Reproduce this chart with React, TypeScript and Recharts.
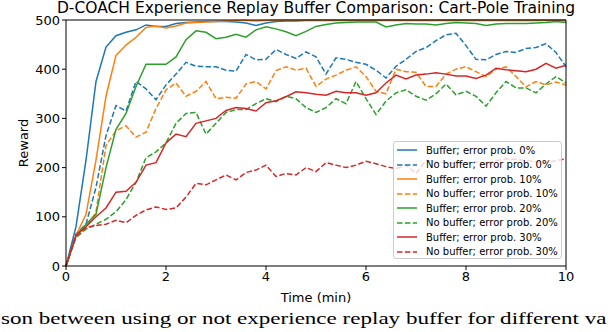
import { LineChart, Line, XAxis, YAxis, ReferenceLine } from 'recharts'

const TIME = [
  0, 0.2, 0.4, 0.6, 0.8, 1, 1.2, 1.4, 1.6, 1.8, 2, 2.2, 2.4, 2.6, 2.8, 3, 3.2, 3.4, 3.6, 3.8, 4,
  4.2, 4.4, 4.6, 4.8, 5, 5.2, 5.4, 5.6, 5.8, 6, 6.2, 6.4, 6.6, 6.8, 7, 7.2, 7.4, 7.6, 7.8, 8,
  8.2, 8.4, 8.6, 8.8, 9, 9.2, 9.4, 9.6, 9.8, 10,
]

// buffer runs
const BUF_0 = [
  0, 80, 215, 375, 445, 468, 475, 480, 490, 487, 487, 493, 495, 496, 497, 497, 497, 496, 494, 489, 494,
  497, 498, 498, 499, 499, 499, 499, 499, 499, 499, 499, 499, 499, 499, 499, 499, 499, 499, 499, 499,
  499, 499, 499, 499, 499, 499, 499, 499, 499, 499,
]
const BUF_10 = [
  0, 62, 105, 215, 345, 428, 449, 465, 485, 488, 484, 488, 494, 495, 496, 497, 498, 499, 499, 498, 499,
  500, 500, 500, 500, 500, 500, 500, 500, 500, 500, 500, 500, 500, 500, 500, 500, 500, 500, 500, 500,
  500, 500, 500, 500, 500, 500, 500, 500, 500, 500,
]
const BUF_20 = [
  0, 62, 85, 105, 200, 278, 310, 365, 410, 410, 410, 425, 460, 478, 475, 462, 465, 471, 465, 480, 486,
  482, 476, 468, 477, 487, 491, 494, 495, 496, 496, 496, 486, 490, 493, 492, 492, 490, 493, 495, 494,
  493, 489, 492, 493, 493, 493, 494, 495, 497, 495,
]
const BUF_30 = [
  0, 62, 80, 100, 118, 150, 152, 170, 205, 210, 250, 268, 263, 290, 295, 300, 316, 322, 320, 315, 332,
  336, 344, 354, 352, 349, 347, 355, 352, 352, 347, 352, 372, 388, 380, 388, 390, 393, 390, 386, 386,
  381, 388, 402, 399, 397, 395, 400, 412, 402, 408,
]

// no buffer runs
const NOBUF_0 = [
  0, 65, 85, 160, 265, 326, 315, 375, 360, 338, 368, 390, 414, 406, 405, 405, 398, 396, 430, 419, 420,
  440, 430, 422, 435, 425, 390, 423, 420, 414, 410, 398, 382, 406, 420, 436, 444, 458, 470, 473, 448,
  420, 419, 430, 436, 434, 442, 444, 452, 434, 405,
]
const NOBUF_10 = [
  0, 60, 78, 110, 245, 275, 285, 262, 272, 320, 358, 372, 345, 355, 375, 340, 343, 341, 370, 375, 360,
  397, 405, 398, 402, 365, 380, 388, 398, 405, 385, 355, 350, 400, 395, 394, 365, 365, 390, 400, 405,
  395, 385, 400, 405, 385, 364, 375, 368, 374, 368,
]
const NOBUF_20 = [
  0, 58, 75, 85, 95, 110, 135, 170, 220, 232, 250, 290, 310, 312, 268, 290, 312, 318, 318, 330, 340,
  334, 345, 340, 322, 312, 322, 340, 330, 375, 340, 308, 335, 352, 358, 345, 337, 350, 370, 348, 355,
  345, 325, 352, 375, 362, 362, 352, 370, 385, 372,
]
const NOBUF_30 = [
  0, 62, 78, 82, 85, 93, 88, 103, 114, 120, 115, 118, 140, 168, 165, 175, 185, 175, 190, 195, 205,
  182, 188, 185, 200, 192, 210, 205, 200, 205, 213, 208, 202, 198, 205, 188, 215, 212, 210, 208, 210,
  212, 208, 214, 218, 217, 214, 212, 210, 214, 218,
]

const X_TICKS = [0, 2, 4, 6, 8, 10]
const Y_TICKS = [0, 100, 200, 300, 400, 500]

const SERIES = [
  { key: 'b0', name: 'Buffer; error prob. 0%', values: BUF_0, color: '#1f77b4', dashed: false },
  { key: 'n0', name: 'No buffer; error prob. 0%', values: NOBUF_0, color: '#1f77b4', dashed: true },
  { key: 'b10', name: 'Buffer; error prob. 10%', values: BUF_10, color: '#ff7f0e', dashed: false },
  { key: 'n10', name: 'No buffer; error prob. 10%', values: NOBUF_10, color: '#ff7f0e', dashed: true },
  { key: 'b20', name: 'Buffer; error prob. 20%', values: BUF_20, color: '#2ca02c', dashed: false },
  { key: 'n20', name: 'No buffer; error prob. 20%', values: NOBUF_20, color: '#2ca02c', dashed: true },
  { key: 'b30', name: 'Buffer; error prob. 30%', values: BUF_30, color: '#d62728', dashed: false },
  { key: 'n30', name: 'No buffer; error prob. 30%', values: NOBUF_30, color: '#d62728', dashed: true },
]

const data = TIME.map((t, i) => {
  const row: Record<string, number> = { t }
  SERIES.forEach((s) => (row[s.key] = s.values[i]))
  return row
})

const FONT = '"DejaVu Sans", sans-serif'
const DASH = '5.5 2.4'

const App = () => {
  return (
    <div style={{ position: 'absolute', left: 0, top: 0, width: 610, height: 332, overflow: 'hidden', background: '#fff' }}>
      <div style={{ position: 'absolute', left: 0, top: 1, width: 610, textAlign: 'center', paddingLeft: 22, boxSizing: 'border-box', fontFamily: FONT, fontSize: 15.5, lineHeight: '14px', color: '#000', whiteSpace: 'nowrap' }}>
        D-COACH Experience Replay Buffer Comparison: Cart-Pole Training
      </div>

      <div style={{ position: 'absolute', left: 0, top: 0 }}>
        <LineChart width={610} height={310} data={data} margin={{ top: 20, right: 44, left: 0, bottom: 6 }} style={{ fontFamily: FONT }}>
          <XAxis
            dataKey="t"
            type="number"
            domain={[0, 10]}
            ticks={X_TICKS}
            tickSize={4}
            height={38}
            stroke="#000"
            tick={{ fill: '#000', fontSize: 13 }}
            label={{ value: 'Time (min)', position: 'insideBottom', offset: 2, fill: '#000', fontSize: 13 }}
          />
          <YAxis
            type="number"
            domain={[0, 500]}
            ticks={Y_TICKS}
            tickSize={4}
            width={66}
            stroke="#000"
            tick={{ fill: '#000', fontSize: 13 }}
            label={{ value: 'Reward', angle: -90, position: 'insideLeft', offset: 23, fill: '#000', fontSize: 13, style: { textAnchor: 'middle' } }}
          />
          {SERIES.map((s) => (
            <Line
              key={s.key}
              dataKey={s.key}
              name={s.name}
              stroke={s.color}
              strokeWidth={1.5}
              strokeDasharray={s.dashed ? DASH : undefined}
              dot={false}
              activeDot={false}
              isAnimationActive={false}
            />
          ))}
          <ReferenceLine y={500} stroke="#000" strokeWidth={1} />
          <ReferenceLine x={10} stroke="#000" strokeWidth={1} />
        </LineChart>
      </div>

      {/* legend box, semi transparent like matplotlib */}
      <div style={{ position: 'absolute', left: 393, top: 141, width: 169, height: 118, boxSizing: 'border-box', border: '1px solid #ccc', borderRadius: 3, background: 'rgba(255,255,255,0.8)', fontFamily: FONT, fontSize: 10, color: '#000', paddingTop: 1 }}>
        {SERIES.map((s) => (
          <div key={s.key} style={{ display: 'flex', alignItems: 'center', height: 14.5, paddingLeft: 3 }}>
            <svg width={20} height={4} style={{ marginRight: 9 }}>
              <line x1={0} y1={2} x2={20} y2={2} stroke={s.color} strokeWidth={1.5} strokeDasharray={s.dashed ? DASH : undefined} />
            </svg>
            <span>{s.name}</span>
          </div>
        ))}
      </div>

      <div style={{ position: 'absolute', left: 1, top: 309, fontFamily: '"Liberation Serif", serif', fontSize: 17, color: '#000', whiteSpace: 'nowrap', transform: 'scaleX(1.355)', transformOrigin: 'left top' }}>
        son between using or not experience replay buffer for different va
      </div>
    </div>
  )
}

export default App
